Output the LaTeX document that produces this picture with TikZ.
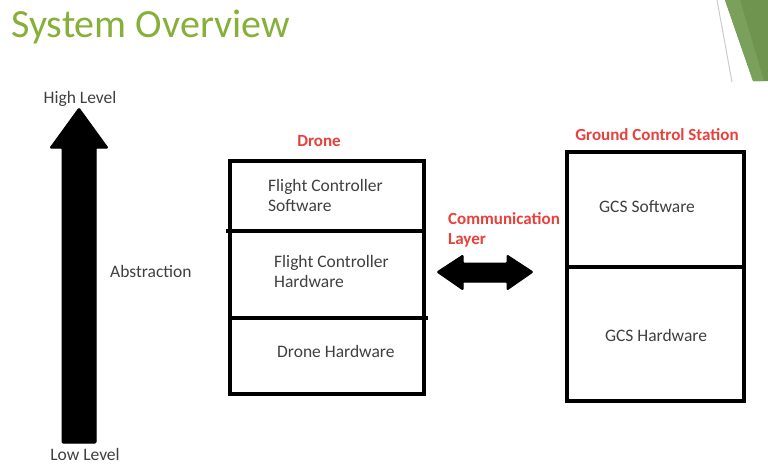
\documentclass[tikz,border=0pt]{standalone}
\usepackage{fontspec}
\setmainfont{Carlito}
\definecolor{titlegreen}{RGB}{134,176,58}
\definecolor{decogreen}{RGB}{111,148,80}
\definecolor{decolight}{RGB}{122,160,92}
\definecolor{labelred}{RGB}{232,64,60}
\definecolor{txtgray}{RGB}{64,64,64}
\begin{document}
\begin{tikzpicture}[x=1pt,y=-1pt,
  txt/.style={inner sep=0pt,text=txtgray,font=\fontsize{17.5}{20}\selectfont},
  lbl/.style={inner sep=0pt,text=labelred,font=\bfseries\fontsize{17}{20}\selectfont},
  boxline/.style={line width=4pt},
  bigarrow/.style={fill=black,draw=black,line width=1pt,rounded corners=1pt,line join=round}]
\useasboundingbox (0,0) rectangle (768,466);
\fill[white] (0,0) rectangle (768,466);
% slide decoration
\fill[decogreen] (725,0) -- (768,0) -- (768,81) -- (753,81) -- cycle;
\fill[decolight] (725,0) -- (740,0) -- (764,81) -- (753,81) -- cycle;
\draw[black!20,line width=1pt] (717,0) -- (732,82);
% title
\node[inner sep=0pt,anchor=base west,text=titlegreen,font=\fontsize{40}{44}\selectfont] (title) at (11,37) {System Overview};
% abstraction arrow
\fill[bigarrow] (62,443) -- (96,443) -- (96,148) -- (108,148) -- (79,108) -- (50,148) -- (62,148) -- cycle;
\node[txt,anchor=base] (high) at (80,103) {High Level};
\node[txt,anchor=base] (low) at (85,460) {Low Level};
\node[txt,anchor=base west] (abs) at (110,277) {Abstraction};
% drone stack
\node[lbl,anchor=base] (dronelbl) at (319,146) {Drone};
\draw[boxline] (230,161) rectangle (424,394);
\draw[boxline] (226,231) -- (424,231);
\draw[boxline] (230,318) -- (428,318);
\node[txt,anchor=base west] (fcs1) at (268,191) {Flight Controller};
\node[txt,anchor=base west] (fcs2) at (268,211) {Software};
\node[txt,anchor=base west] (fch1) at (274,267) {Flight Controller};
\node[txt,anchor=base west] (fch2) at (274,287) {Hardware};
\node[txt,anchor=base west] (dh) at (277,357) {Drone Hardware};
% communication layer
\node[lbl,anchor=base west] (com1) at (448,224) {Communication};
\node[lbl,anchor=base west] (com2) at (448,244) {Layer};
\fill[bigarrow] (437,272) -- (463,255) -- (463,263) -- (507,263) -- (507,255) -- (533,272) -- (507,290) -- (507,282) -- (463,282) -- (463,290) -- cycle;
% ground control station
\node[lbl,anchor=base] (gcslbl) at (657,140) {Ground Control Station};
\draw[boxline] (567,152) rectangle (744,401);
\draw[boxline] (567,267) -- (744,267);
\node[txt,anchor=base] (gsw) at (647,212) {GCS Software};
\node[txt,anchor=base] (ghw) at (656,341) {GCS Hardware};
\end{tikzpicture}
\end{document}
